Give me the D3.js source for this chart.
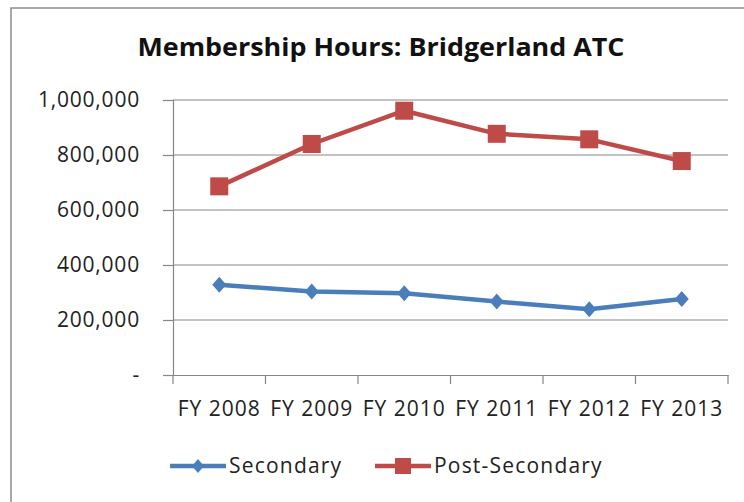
<!DOCTYPE html>
<html><head><meta charset="utf-8">
<script src="https://cdn.jsdelivr.net/npm/d3@7"></script>
<style>
html,body{margin:0;padding:0;background:#fff;}
svg{display:block;font-family:"Open Sans",sans-serif;}
</style></head>
<body>
<svg id="c" width="744" height="502"></svg>
<script>
const categories = ["FY 2008","FY 2009","FY 2010","FY 2011","FY 2012","FY 2013"];
const secondary = [328000, 304000, 297000, 267000, 239000, 276000];
const postSecondary = [686000, 840000, 961000, 877000, 857000, 778000];
const yTicks = [0, 200000, 400000, 600000, 800000, 1000000];
const seriesNames = ["Secondary", "Post-Secondary"];
const colors = ["#4A7EBB", "#BE4B48"];

const FONT = "'Open Sans',sans-serif";
const svg = d3.select("#c");
// chart frame
svg.append("rect").attr("x",11).attr("y",8).attr("width",760).attr("height",520)
  .attr("fill","#fff").attr("stroke","#8c8c8c").attr("stroke-width",1.5);

const L=173, R=728, T=100, B=375;
const x = d3.scaleBand().domain(categories).range([L,R]);
const y = d3.scaleLinear().domain([0,1000000]).range([B,T]);

// gridlines
svg.append("g").selectAll("line").data(yTicks.slice(1)).join("line")
  .attr("x1",L).attr("x2",R).attr("y1",d=>y(d)).attr("y2",d=>y(d))
  .attr("stroke","#868686").attr("stroke-width",1.2);

// y axis
const fmt = d => d===0 ? "-" : d3.format(",")(d);
const yAxis = svg.append("g").attr("transform",`translate(${L},0)`)
  .call(d3.axisLeft(y).tickValues(yTicks).tickFormat(fmt).tickSize(10).tickPadding(23));
yAxis.select(".domain").attr("stroke","#868686").attr("stroke-width",1.2);
yAxis.selectAll(".tick line").attr("stroke","#868686").attr("stroke-width",1.2);
yAxis.selectAll("text").attr("font-size",21).attr("fill","#222").attr("font-family",FONT)
  .attr("letter-spacing",0.8);

// x axis
const xAxis = svg.append("g").attr("transform",`translate(0,${B})`)
  .call(d3.axisBottom(x).tickSize(0).tickPadding(26));
xAxis.select(".domain").attr("stroke","#868686").attr("stroke-width",1.2);
xAxis.selectAll("text").attr("font-size",21).attr("fill","#222").attr("font-family",FONT)
  .attr("letter-spacing",1);
// x tick marks at category boundaries
const bounds = categories.map(c=>x(c)).concat([R]);
svg.append("g").selectAll("line").data(bounds).join("line")
  .attr("x1",d=>d).attr("x2",d=>d).attr("y1",B).attr("y2",B+9)
  .attr("stroke","#868686").attr("stroke-width",1.2);

const cx = c => x(c)+x.bandwidth()/2;
const line = d3.line().x((d,i)=>cx(categories[i])).y(d=>y(d));

// series
const data = [secondary, postSecondary];
data.forEach((vals,si)=>{
  svg.append("path").datum(vals).attr("d",line).attr("fill","none")
    .attr("stroke",colors[si]).attr("stroke-width",4.5).attr("stroke-linejoin","round");
  const g = svg.append("g");
  vals.forEach((v,i)=>{
    const px=cx(categories[i]), py=y(v);
    if(si===0){
      g.append("path").attr("d",`M${px},${py-8}L${px+7},${py}L${px},${py+8}L${px-7},${py}Z`)
        .attr("fill",colors[0]);
    } else {
      g.append("rect").attr("x",px-9).attr("y",py-9).attr("width",18).attr("height",18)
        .attr("fill",colors[1]);
    }
  });
});

// title
svg.append("text").attr("x",381).attr("y",56).attr("text-anchor","middle")
  .attr("font-size",25).attr("font-weight","bold").attr("fill","#111")
  .attr("font-family",FONT).attr("textLength",487).attr("lengthAdjust","spacingAndGlyphs")
  .text("Membership Hours: Bridgerland ATC");

// legend
const legY = 466;
const legX = [170, 375];
seriesNames.forEach((n,si)=>{
  const x0 = legX[si];
  svg.append("line").attr("x1",x0).attr("x2",x0+56).attr("y1",legY).attr("y2",legY)
    .attr("stroke",colors[si]).attr("stroke-width",4.5);
  const mx = x0+28;
  if(si===0){
    svg.append("path").attr("d",`M${mx},${legY-7}L${mx+6},${legY}L${mx},${legY+7}L${mx-6},${legY}Z`).attr("fill",colors[0]);
  } else {
    svg.append("rect").attr("x",mx-8).attr("y",legY-8).attr("width",16).attr("height",16).attr("fill",colors[1]);
  }
  svg.append("text").attr("x",x0+59).attr("y",legY+7).attr("font-size",21).attr("fill","#222")
    .attr("font-family",FONT).attr("letter-spacing",1.2).text(n);
});
</script>
</body></html>
